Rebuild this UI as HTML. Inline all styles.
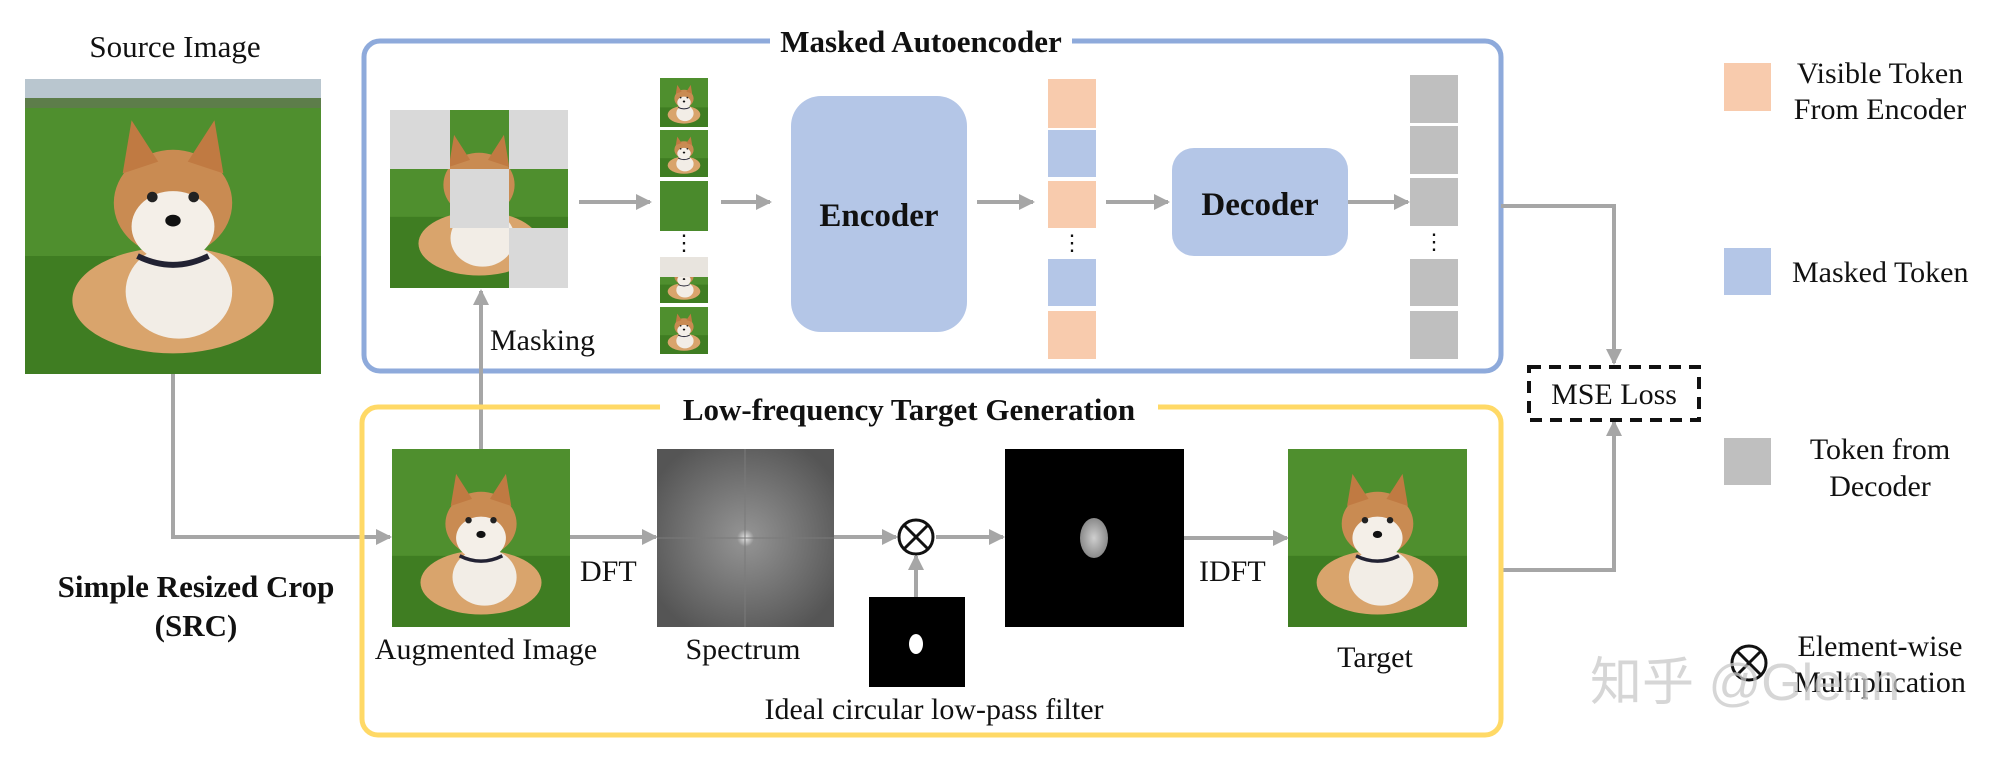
<!DOCTYPE html>
<html><head><meta charset="utf-8"><style>
html,body{margin:0;padding:0;background:#fff;}
svg{display:block;}
text{font-family:"Liberation Serif","Noto Serif CJK SC",serif;fill:#111;}
.b{font-weight:bold;}
</style></head><body>
<svg width="2000" height="761" viewBox="0 0 2000 761" xmlns="http://www.w3.org/2000/svg">
<defs>
<symbol id="dog" viewBox="0 0 100 100" preserveAspectRatio="none">
<rect width="100" height="100" fill="#4f8f2e"/>
<rect y="60" width="100" height="40" fill="#3f7d22"/>
<ellipse cx="50" cy="75" rx="34" ry="18" fill="#d9a46c"/>
<ellipse cx="52" cy="72" rx="18" ry="16" fill="#f2ede6"/>
<ellipse cx="50" cy="42" rx="20" ry="18" fill="#c98b52"/>
<polygon points="33,32 36,14 45,28" fill="#c07a42"/>
<polygon points="67,32 64,14 55,28" fill="#c07a42"/>
<ellipse cx="50" cy="50" rx="14" ry="12" fill="#f4efe8"/>
<circle cx="43" cy="40" r="1.8" fill="#222"/>
<circle cx="57" cy="40" r="1.8" fill="#222"/>
<ellipse cx="50" cy="48" rx="2.6" ry="2" fill="#111"/>
<path d="M38 60 Q50 66 62 60" stroke="#223" stroke-width="2" fill="none"/>
</symbol>
<radialGradient id="spec" cx="50%" cy="50%" r="60%">
<stop offset="0" stop-color="#e8e8e8"/><stop offset="0.08" stop-color="#909090"/><stop offset="1" stop-color="#555"/>
</radialGradient>
<radialGradient id="blob" cx="50%" cy="50%" r="50%">
<stop offset="0" stop-color="#cfcfcf"/><stop offset="1" stop-color="#8a8a8a"/>
</radialGradient>
<marker id="ar" markerWidth="4" markerHeight="4" refX="3.5" refY="2" orient="auto" markerUnits="strokeWidth">
<path d="M0,0 L4,2 L0,4 z" fill="#a6a6a6"/>
</marker>
</defs>

<!-- Source image -->
<text x="175" y="57" font-size="31" text-anchor="middle">Source Image</text>
<use href="#dog" x="25" y="79" width="296" height="295"/>
<rect x="25" y="79" width="296" height="28" fill="#b9c6cf"/>
<rect x="25" y="98" width="296" height="10" fill="#5d7d4a"/>

<!-- Blue box -->
<rect x="364" y="41" width="1137" height="330" rx="16" fill="none" stroke="#8eaadb" stroke-width="5"/>
<rect x="770" y="25" width="302" height="34" fill="#fff"/>
<text x="921" y="52" font-size="31" text-anchor="middle" class="b">Masked Autoencoder</text>

<!-- Masked image -->
<use href="#dog" x="390" y="110" width="178" height="178"/>
<rect x="390" y="110" width="60" height="59" fill="#d9d9d9"/>
<rect x="509" y="110" width="59" height="59" fill="#d9d9d9"/>
<rect x="450" y="169" width="59" height="59" fill="#d9d9d9"/>
<rect x="509" y="228" width="59" height="60" fill="#d9d9d9"/>

<g stroke="#a6a6a6" stroke-width="4" fill="none">
<line x1="579" y1="202" x2="650" y2="202" marker-end="url(#ar)"/>
<line x1="721" y1="202" x2="770" y2="202" marker-end="url(#ar)"/>
<line x1="977" y1="202" x2="1033" y2="202" marker-end="url(#ar)"/>
<line x1="1106" y1="202" x2="1168" y2="202" marker-end="url(#ar)"/>
<line x1="1348" y1="202" x2="1408" y2="202" marker-end="url(#ar)"/>
<polyline points="1501,206 1614,206 1614,363" marker-end="url(#ar)"/>
<polyline points="1501,570 1614,570 1614,422" marker-end="url(#ar)"/>
<polyline points="173,374 173,537 390,537" marker-end="url(#ar)"/>
<line x1="481" y1="449" x2="481" y2="291" marker-end="url(#ar)"/>
<line x1="570" y1="537" x2="656" y2="537" marker-end="url(#ar)"/>
<line x1="834" y1="537" x2="896" y2="537" marker-end="url(#ar)"/>
<line x1="936" y1="537" x2="1003" y2="537" marker-end="url(#ar)"/>
<line x1="916" y1="597" x2="916" y2="556" marker-end="url(#ar)"/>
<line x1="1184" y1="538" x2="1287" y2="538" marker-end="url(#ar)"/>
</g>

<!-- patches -->
<use href="#dog" x="660" y="78" width="48" height="49"/>
<use href="#dog" x="660" y="130" width="48" height="47"/>
<rect x="660" y="181" width="48" height="50" fill="#4a8a2c"/>
<text x="684" y="250" font-size="22" text-anchor="middle">⋮</text>
<use href="#dog" x="660" y="257" width="48" height="46"/>
<rect x="660" y="257" width="48" height="20" fill="#e8e4de"/>
<use href="#dog" x="660" y="307" width="48" height="47"/>

<!-- Encoder -->
<rect x="791" y="96" width="176" height="236" rx="30" fill="#b4c6e7"/>
<text x="879" y="226" font-size="33" text-anchor="middle" class="b">Encoder</text>

<!-- tokens -->
<rect x="1048" y="79" width="48" height="49" fill="#f8cbad"/>
<rect x="1048" y="130" width="48" height="47" fill="#b4c6e7"/>
<rect x="1048" y="181" width="48" height="47" fill="#f8cbad"/>
<text x="1072" y="250" font-size="22" text-anchor="middle">⋮</text>
<rect x="1048" y="259" width="48" height="47" fill="#b4c6e7"/>
<rect x="1048" y="311" width="48" height="48" fill="#f8cbad"/>

<!-- Decoder -->
<rect x="1172" y="148" width="176" height="108" rx="22" fill="#b4c6e7"/>
<text x="1260" y="215" font-size="33" text-anchor="middle" class="b">Decoder</text>

<rect x="1410" y="75" width="48" height="48" fill="#bfbfbf"/>
<rect x="1410" y="126" width="48" height="48" fill="#bfbfbf"/>
<rect x="1410" y="178" width="48" height="48" fill="#bfbfbf"/>
<text x="1434" y="249" font-size="22" text-anchor="middle">⋮</text>
<rect x="1410" y="259" width="48" height="47" fill="#bfbfbf"/>
<rect x="1410" y="311" width="48" height="48" fill="#bfbfbf"/>

<text x="490" y="350" font-size="30">Masking</text>

<!-- MSE -->
<rect x="1529" y="367" width="170" height="53" fill="#fff" stroke="#111" stroke-width="4" stroke-dasharray="12,8"/>
<text x="1614" y="404" font-size="30" text-anchor="middle">MSE Loss</text>

<!-- Yellow box -->
<rect x="362" y="407" width="1139" height="328" rx="16" fill="none" stroke="#ffd966" stroke-width="5"/>
<rect x="660" y="392" width="498" height="34" fill="#fff"/>
<text x="909" y="420" font-size="31" text-anchor="middle" class="b">Low-frequency Target Generation</text>

<use href="#dog" x="392" y="449" width="178" height="178"/>
<text x="486" y="659" font-size="30" text-anchor="middle">Augmented Image</text>
<text x="580" y="581" font-size="30">DFT</text>

<rect x="657" y="449" width="177" height="178" fill="url(#spec)"/>
<line x1="745" y1="449" x2="745" y2="627" stroke="#7a7a7a" stroke-width="1"/>
<line x1="657" y1="538" x2="834" y2="538" stroke="#7a7a7a" stroke-width="1"/>
<text x="743" y="659" font-size="30" text-anchor="middle">Spectrum</text>

<circle cx="916" cy="537" r="17" fill="#fff" stroke="#111" stroke-width="3"/>
<line x1="904" y1="525" x2="928" y2="549" stroke="#111" stroke-width="3"/>
<line x1="928" y1="525" x2="904" y2="549" stroke="#111" stroke-width="3"/>

<rect x="869" y="597" width="96" height="90" fill="#000"/>
<ellipse cx="916" cy="644" rx="7" ry="10" fill="#fff"/>
<text x="934" y="719" font-size="30" text-anchor="middle">Ideal circular low-pass filter</text>

<rect x="1005" y="449" width="179" height="178" fill="#000"/>
<ellipse cx="1094" cy="538" rx="14" ry="20" fill="url(#blob)"/>
<text x="1199" y="581" font-size="30">IDFT</text>

<use href="#dog" x="1288" y="449" width="179" height="178"/>
<text x="1375" y="667" font-size="30" text-anchor="middle">Target</text>

<text x="196" y="597" font-size="31" text-anchor="middle" class="b">Simple Resized Crop</text>
<text x="196" y="636" font-size="31" text-anchor="middle" class="b">(SRC)</text>

<!-- Legend -->
<rect x="1724" y="63" width="47" height="48" fill="#f8cbad"/>
<text x="1880" y="83" font-size="30" text-anchor="middle">Visible Token</text>
<text x="1880" y="119" font-size="30" text-anchor="middle">From Encoder</text>
<rect x="1724" y="248" width="47" height="47" fill="#b4c6e7"/>
<text x="1792" y="282" font-size="30">Masked Token</text>
<rect x="1724" y="438" width="47" height="47" fill="#bfbfbf"/>
<text x="1880" y="459" font-size="30" text-anchor="middle">Token from</text>
<text x="1880" y="496" font-size="30" text-anchor="middle">Decoder</text>
<circle cx="1749" cy="663" r="17" fill="#fff" stroke="#111" stroke-width="3"/>
<line x1="1737" y1="651" x2="1761" y2="675" stroke="#111" stroke-width="3"/>
<line x1="1761" y1="651" x2="1737" y2="675" stroke="#111" stroke-width="3"/>
<text x="1880" y="656" font-size="30" text-anchor="middle">Element-wise</text>
<text x="1880" y="692" font-size="30" text-anchor="middle">Multiplication</text>
<text x="1590" y="700" font-size="52" style="font-family:'Liberation Sans','Noto Sans CJK SC',sans-serif;fill:rgba(200,200,200,0.75)">知乎 @Glenn</text>
</svg>
</body></html>
